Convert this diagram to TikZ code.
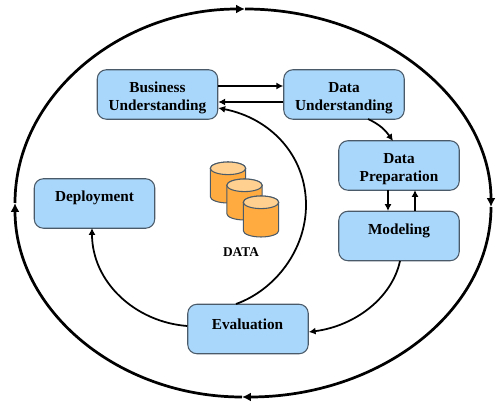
\documentclass[tikz,border=0pt]{standalone}
\usepackage{fontspec}
\setmainfont{Liberation Serif}
\usetikzlibrary{arrows.meta}
\definecolor{boxblue}{HTML}{A9D6FB}
\definecolor{boxedge}{HTML}{4A5A68}
\definecolor{cylside}{HTML}{FFAB40}
\definecolor{cyltop}{HTML}{FFD08F}
\tikzset{
  phase/.style={draw=boxedge,fill=boxblue,rounded corners=5.2pt,line width=0.6pt,minimum width=2.41cm,minimum height=0.99cm,inner sep=0pt},
  phasetext/.style={font=\fontsize{8.7}{10.6}\selectfont\bfseries,align=center},
  flow/.style={line width=1pt,-{Latex[length=3.9pt,width=4pt]}},
  ring/.style={line width=1.55pt,-{Latex[length=5pt,width=5pt]}},
  drum/.style={draw=boxedge,line width=0.6pt,x radius=0.354cm,y radius=0.126cm}
}
\begin{document}
\begin{tikzpicture}[x=0.02cm,y=-0.02cm]
\useasboundingbox (0,0) rectangle (500,411);

% outer cycle
\coordinate (ringtop) at (245,9);
\coordinate (ringright) at (491,207);
\coordinate (ringbottom) at (242,397);
\coordinate (ringleft) at (15,203);
\draw[ring] (ringleft) .. controls +(0,-107) and +(-125,0) .. (ringtop);
\draw[ring] (ringtop) .. controls +(135,0) and +(0,-107) .. (ringright);
\draw[ring] (ringright) .. controls +(0,105) and +(137,0) .. (ringbottom);
\draw[ring] (ringbottom) .. controls +(-124,0) and +(0,107) .. (ringleft);

% phases
\node[phase] (business) at (157.5,94.5) {};
\node[phase] (dataund) at (344,94.5) {};
\node[phase] (dataprep) at (399,165.5) {};
\node[phase] (modeling) at (399,236) {};
\node[phase] (deployment) at (94.5,203.5) {};
\node[phase] (evaluation) at (248,329) {};

\node[phasetext] (businesstext) at (157.5,98) {Business\\Understanding};
\node[phasetext] (dataundtext) at (344,98) {Data\\Understanding};
\node[phasetext] (dataprept) at (399,169) {Data\\Preparation};
\node[phasetext] (modelingt) at (399,231) {Modeling};
\node[phasetext] (deploymentt) at (94.5,198) {Deployment};
\node[phasetext] (evaluationt) at (247.5,324) {Evaluation};

% arrows between phases
\coordinate (busout) at (business.east |- 0,86);
\coordinate (dataundin) at (dataund.west |- 0,86);
\coordinate (dataundout) at (dataund.west |- 0,102);
\coordinate (busin) at (business.east |- 0,102);
\coordinate (busback) at (business.east |- 0,108);
\coordinate (dataunddown) at (368,119);
\coordinate (dataprepin) at (393,141);
\draw[flow] (busout) -- (dataundin);
\draw[flow] (dataundout) -- (busin);
\draw[flow] (dataunddown) to[out=-25,in=125] (dataprepin);
\draw[flow] (388,190) -- (388,211);
\draw[flow] (415,211) -- (415,190);
\draw[flow] (400,261) .. controls (392,298) and (355,326) .. (evaluation.east |- 0,332);
\draw[flow] (236,304) .. controls (275,290) and (306,250) .. (306,205) .. controls (306,155) and (270,118) .. (busback);
\draw[flow] (evaluation.west |- 0,326) .. controls (135,322) and (92,282) .. (92,228);

% data
\foreach \cx/\ctop in {228/162,244.5/179,261/196} {
    \draw[drum,fill=cylside] (\cx-17.7,\ctop+6.3) -- (\cx-17.7,\ctop+34.7)
        arc[start angle=180,end angle=360] -- (\cx+17.7,\ctop+6.3)
        arc[start angle=0,end angle=180] -- cycle;
    \draw[drum,fill=cyltop] (\cx,\ctop+6.3) ellipse[];
}
\node[font=\fontsize{7.6}{9}\selectfont\bfseries] (datalabel) at (241,252) {DATA};
\end{tikzpicture}
\end{document}
